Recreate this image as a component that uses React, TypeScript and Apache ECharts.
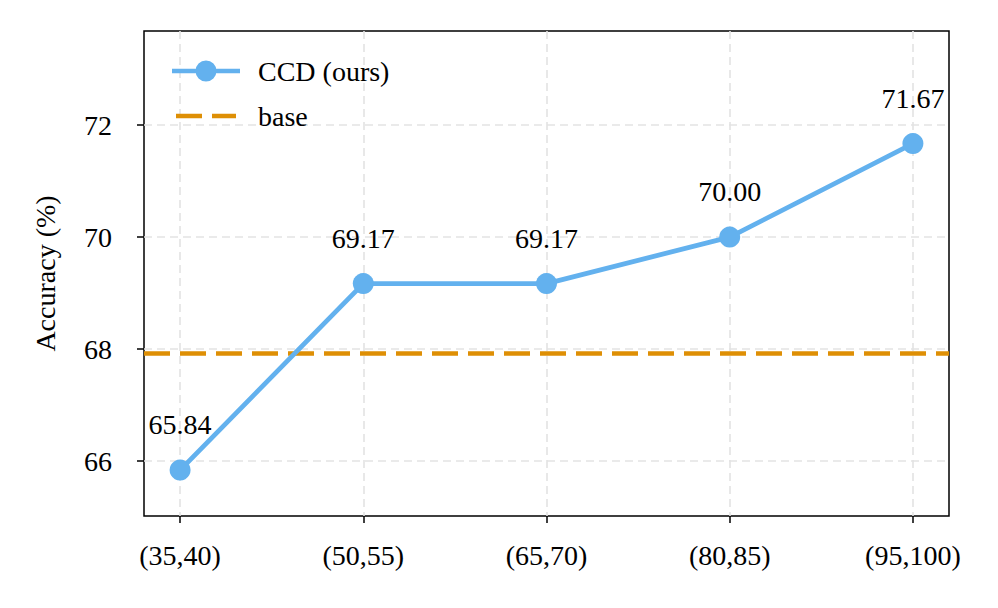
import React, { useEffect, useRef } from "react";
import * as echarts from "echarts";

const categories = ["(35,40)", "(50,55)", "(65,70)", "(80,85)", "(95,100)"];
const ccdValues = [65.84, 69.17, 69.17, 70.0, 71.67];
const baseValue = 67.92;
const yTicks = [66, 68, 70, 72];
const xTicks = [0, 1, 2, 3, 4];

const FONT = "Liberation Serif";

const ICON_LINE_MARKER =
  "path://M0,0 L0,0 M0,8.75 L68,8.75 L68,13.25 L0,13.25 Z M23.5,11 A10.5,10.5 0 1 1 44.5,11 A10.5,10.5 0 1 1 23.5,11 Z M68,22 L68,22";
const ICON_DASH =
  "path://M0,0 L0,0 M4,8.75 L30,8.75 L30,13.25 L4,13.25 Z M40,8.75 L64,8.75 L64,13.25 L40,13.25 Z M68,22 L68,22";

export default function App() {
  const ref = useRef<HTMLDivElement>(null);
  useEffect(() => {
    if (!ref.current) return;
    const chart = echarts.init(ref.current, null, { renderer: "svg" });
    const gridLine = { show: true, lineStyle: { color: "#e3e3e3", width: 1.6, type: [8, 5] as any } };
    chart.setOption({
      animation: false,
      backgroundColor: "#ffffff",
      textStyle: { fontFamily: FONT },
      grid: {
        left: 144,
        right: 49,
        top: 31,
        bottom: 92,
        show: true,
        borderColor: "#000",
        borderWidth: 1.5,
        backgroundColor: "transparent",
        containLabel: false,
      },
      legend: {
        orient: "vertical",
        left: 167,
        top: 52,
        itemWidth: 68,
        itemHeight: 22,
        itemGap: 17,
        textStyle: { fontFamily: FONT, fontSize: 28, color: "#000", padding: [0, 0, 0, 13] },
        data: [
          { name: "CCD (ours)", icon: ICON_LINE_MARKER },
          { name: "base", icon: ICON_DASH },
        ],
      },
      xAxis: {
        type: "value",
        min: -0.197,
        max: 4.197,
        axisLine: { show: false, onZero: false },
        axisTick: { show: true, customValues: xTicks, length: 7, lineStyle: { color: "#000", width: 1.5 } },
        axisLabel: {
          customValues: xTicks,
          margin: 25,
          fontFamily: FONT,
          fontSize: 28,
          color: "#000",
          formatter: (v: number) => categories[Math.round(v)] ?? "",
        },
        splitLine: gridLine,
      },
      yAxis: {
        type: "value",
        min: 65.02,
        max: 73.68,
        name: "Accuracy (%)",
        nameLocation: "middle",
        nameGap: 85,
        nameTextStyle: { fontFamily: FONT, fontSize: 28, color: "#000" },
        axisLine: { show: false, onZero: false },
        axisTick: { show: true, customValues: yTicks, length: 7, lineStyle: { color: "#000", width: 1.5 } },
        axisLabel: { customValues: yTicks, margin: 32, fontFamily: FONT, fontSize: 28, color: "#000" },
        splitLine: gridLine,
      },
      series: [
        {
          name: "CCD (ours)",
          type: "line",
          data: ccdValues.map((v, i) => [i, v]),
          color: "#63b1ee",
          lineStyle: { width: 4.8, color: "#63b1ee" },
          symbol: "circle",
          symbolSize: 21,
          itemStyle: { color: "#63b1ee" },
          label: {
            show: true,
            position: "top",
            distance: 21,
            fontFamily: FONT,
            fontSize: 28,
            color: "#000",
            formatter: (p: any) => p.value[1].toFixed(2),
          },
          z: 3,
        },
        {
          name: "base",
          type: "line",
          data: [[-0.197, baseValue], [4.197, baseValue]],
          color: "#de8f05",
          symbol: "none",
          itemStyle: { color: "#de8f05" },
          lineStyle: { width: 4.5, color: "#de8f05", type: [26, 10] as any },
          z: 2,
        },
      ],
    });
    return () => chart.dispose();
  }, []);
  return <div ref={ref} style={{ width: 998, height: 608, position: "absolute", left: 0, top: 0 }} />;
}
